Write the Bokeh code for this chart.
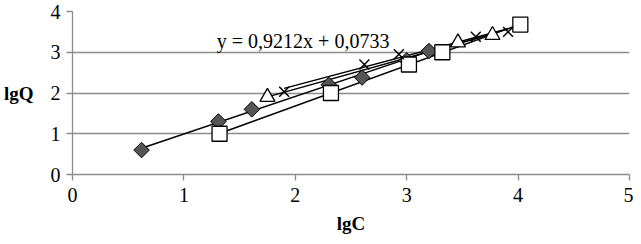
import numpy as np
from bokeh.plotting import figure
from bokeh.models import Range1d, FixedTicker
from bokeh.embed import file_html
from bokeh.resources import INLINE
from bokeh.core.properties import value

# data
diam_x = [0.62, 1.31, 1.61, 2.30, 2.60, 3.00, 3.20]
diam_y = [0.60, 1.30, 1.60, 2.20, 2.38, 2.80, 3.03]
sq_x = [1.32, 2.32, 3.02, 3.32, 4.02]
sq_y = [1.00, 2.00, 2.70, 3.00, 3.68]
tri_x = [1.75, 3.46, 3.77]
tri_y = [1.90, 3.24, 3.42]
cr_x = [1.90, 2.62, 2.93, 3.62, 3.91]
cr_y = [2.03, 2.70, 2.95, 3.38, 3.50]
eq_slope = 0.9212
eq_icpt = 0.0733
x_ticks = [0, 1, 2, 3, 4, 5]
y_ticks = [0, 1, 2, 3, 4]

FONT = "Liberation Serif"

p = figure(width=633, height=236, output_backend="svg", toolbar_location=None,
           x_range=Range1d(0, 5), y_range=Range1d(0, 4),
           min_border_left=70, min_border_right=4, min_border_top=11, min_border_bottom=0)
p.outline_line_color = None
p.background_fill_color = "white"
p.border_fill_color = "white"

p.xgrid.grid_line_color = None
p.ygrid.grid_line_color = "#8c8c8c"
p.ygrid.grid_line_width = 1.3
p.ygrid.ticker = FixedTicker(ticks=y_ticks)

for ax in (p.xaxis[0], p.yaxis[0]):
    ax.axis_line_color = "#8c8c8c"
    ax.axis_line_width = 1.3
    ax.major_tick_line_color = "#8c8c8c"
    ax.major_tick_line_width = 1.3
    ax.major_tick_in = 0
    ax.major_tick_out = 6
    ax.minor_tick_line_color = None
    ax.major_label_text_font = FONT
    ax.major_label_text_font_size = "20px"
    ax.major_label_text_color = "black"
    ax.axis_label_text_font = FONT
    ax.axis_label_text_font_size = "19px"
    ax.axis_label_text_font_style = "bold"
    ax.axis_label_text_color = "black"

p.xaxis.ticker = FixedTicker(ticks=x_ticks)
p.yaxis.ticker = FixedTicker(ticks=y_ticks)
p.xaxis.axis_label = "lgC"
p.yaxis.axis_label = "lgQ"
p.yaxis.axis_label_orientation = "horizontal"
p.xaxis.major_label_standoff = 7
p.xaxis.axis_label_standoff = 8
p.yaxis.major_label_standoff = 6
p.yaxis.axis_label_standoff = 14

def trend(xs, ys):
    k, b = np.polyfit(xs, ys, 1)
    xx = np.array([min(xs), max(xs)])
    return xx, k * xx + b

# trend lines
dx = np.array([min(diam_x), max(diam_x)])
p.line(dx, eq_slope * dx + eq_icpt, line_color="black", line_width=1.5)
for xs, ys in ((sq_x, sq_y), (tri_x, tri_y), (cr_x, cr_y)):
    xx, yy = trend(xs, ys)
    p.line(xx, yy, line_color="black", line_width=1.5)

# markers
p.scatter(diam_x, diam_y, marker="square", angle=np.pi / 4, size=11,
          fill_color="#555555", line_color="black", line_width=1)
p.scatter(sq_x, sq_y, marker="square", size=15, fill_color="white",
          line_color="black", line_width=1.3)
p.scatter(tri_x, tri_y, marker="triangle", size=15, fill_color="white",
          line_color="black", line_width=1.3)
p.scatter(cr_x, cr_y, marker="x", size=14, line_color="black", line_width=1.5)

p.text(x=[2.07], y=[3.27], text=[f"y = {eq_slope:.4f}x + {eq_icpt:.4f}".replace(".", ",")],
       text_font=value(FONT), text_font_size="20px", text_color="black",
       text_align="center", text_baseline="middle")

open("out.html", "w").write(file_html(p, INLINE))
